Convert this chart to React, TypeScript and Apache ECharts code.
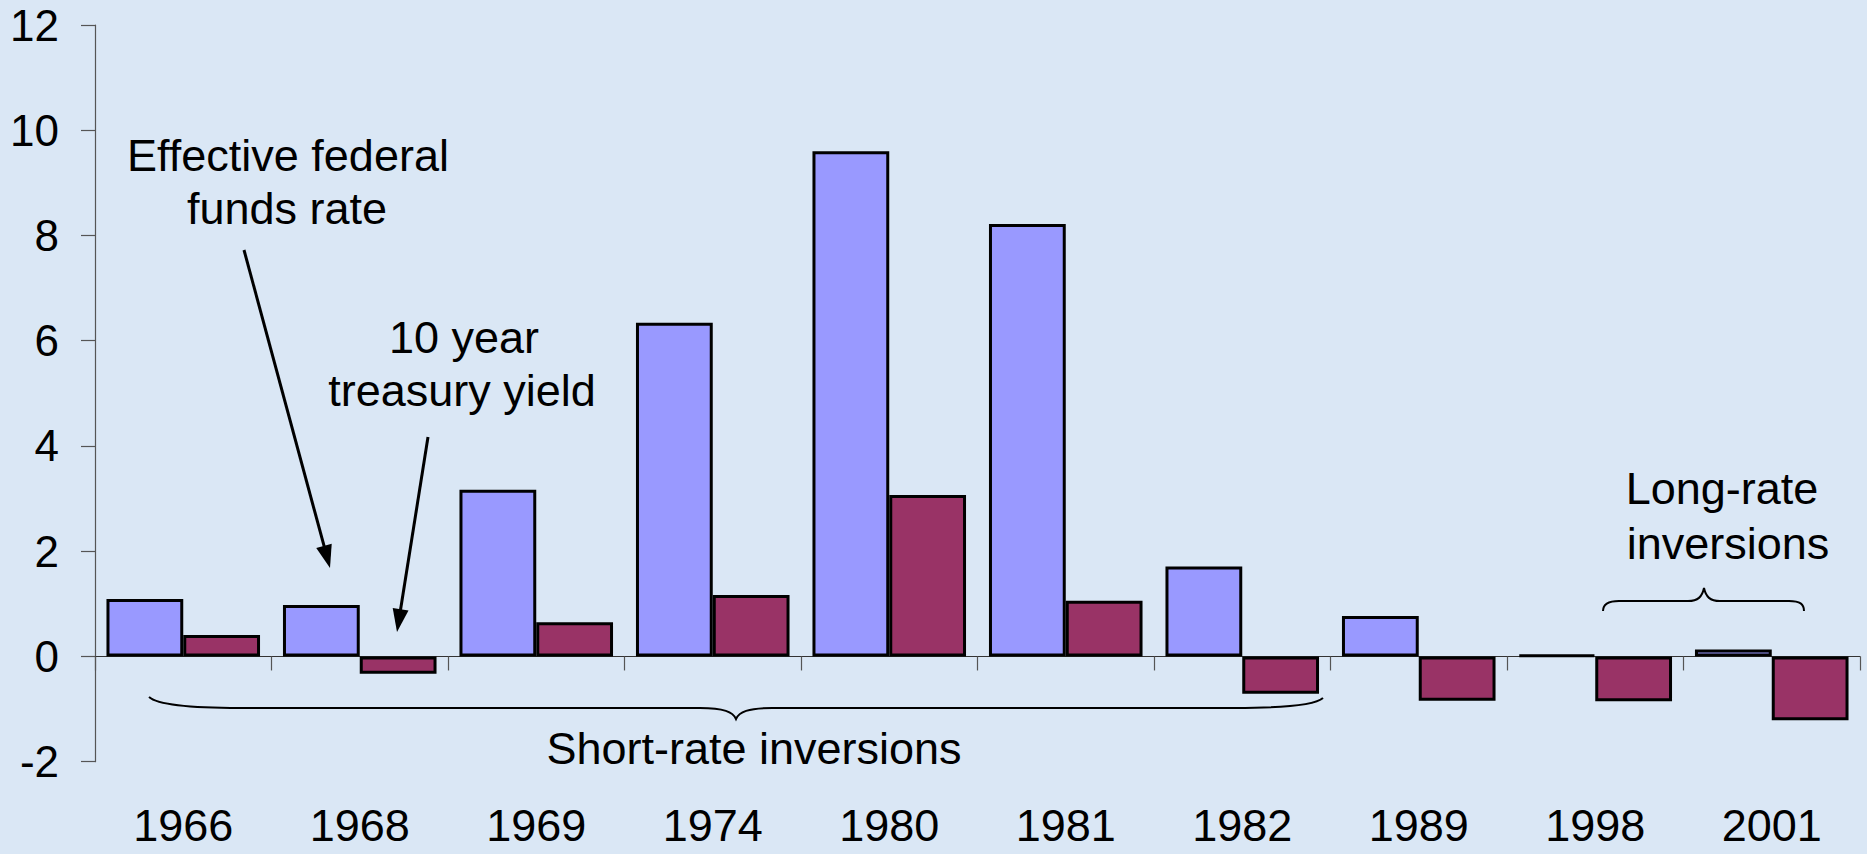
import React, { useEffect, useRef } from "react";
import * as echarts from "echarts";

const years = ["1966", "1968", "1969", "1974", "1980", "1981", "1982", "1989", "1998", "2001"];
const fedFunds = [1.09, 0.98, 3.17, 6.34, 9.6, 8.22, 1.71, 0.77, 0.03, 0.13];
const treasury = [0.41, -0.33, 0.65, 1.17, 3.07, 1.06, -0.71, -0.84, -0.85, -1.21];
const yTicks = { min: -2, max: 12, interval: 2 };

const FONT = "Liberation Sans, Arial, sans-serif";

echarts.graphic.registerShape(
  "braceShort",
  echarts.graphic.extendPath(
    "M149,697 C158,705 195,708 240,708 L700,708 C724,708 733,712 736,719 C739,712 748,708 772,708 L1235,708 C1285,708 1315,705 1323,698",
    {}
  )
);
echarts.graphic.registerShape(
  "braceLong",
  echarts.graphic.extendPath(
    "M1603,611 C1603,604 1608,601 1619,601 L1688,601 C1698,601 1702,597 1704,588 C1706,597 1710,601 1720,601 L1789,601 C1800,601 1804,604 1804,611",
    {}
  )
);

function arrow(x1: number, y1: number, x2: number, y2: number) {
  const dx = x2 - x1;
  const dy = y2 - y1;
  const len = Math.sqrt(dx * dx + dy * dy);
  const ux = dx / len;
  const uy = dy / len;
  const headLen = 23;
  const halfW = 8;
  const bx = x2 - ux * headLen;
  const by = y2 - uy * headLen;
  const px = -uy;
  const py = ux;
  return [
    {
      type: "line",
      shape: { x1, y1, x2: bx + ux * 2, y2: by + uy * 2 },
      style: { stroke: "#000", lineWidth: 3 },
      z: 10,
    },
    {
      type: "polygon",
      shape: {
        points: [
          [x2, y2],
          [bx + px * halfW, by + py * halfW],
          [bx - px * halfW, by - py * halfW],
        ],
      },
      style: { fill: "#000" },
      z: 10,
    },
  ];
}

function label(text: string, x: number, y: number) {
  return {
    type: "text",
    x,
    y,
    z: 10,
    style: {
      text,
      fill: "#000",
      fontSize: 45,
      fontFamily: FONT,
      align: "center",
      verticalAlign: "middle",
    },
  };
}

export default function App() {
  const ref = useRef<HTMLDivElement>(null);
  useEffect(() => {
    if (!ref.current) return;
    const chart = echarts.init(ref.current, null, { renderer: "svg" });
    chart.setOption({
      animation: false,
      backgroundColor: "#dae7f5",
      grid: {
        left: 95,
        right: 7,
        top: 25,
        bottom: 92.3,
        containLabel: false,
        outerBoundsMode: "none",
      },
      xAxis: [
        {
          type: "category",
          data: years,
          position: "bottom",
          axisLine: { show: true, onZero: true, lineStyle: { color: "#333", width: 1.2 } },
          axisTick: { show: true, length: 14, inside: false, lineStyle: { color: "#555", width: 1.2 } },
          axisLabel: { show: false },
          splitLine: { show: false },
        },
        {
          type: "category",
          data: years,
          position: "bottom",
          axisLine: { show: false, onZero: false },
          axisTick: { show: false },
          axisLabel: { show: true, fontSize: 45, fontFamily: FONT, color: "#000", margin: 41 },
          splitLine: { show: false },
        },
      ],
      yAxis: {
        type: "value",
        min: yTicks.min,
        max: yTicks.max,
        interval: yTicks.interval,
        axisLine: { show: true, onZero: false, lineStyle: { color: "#555", width: 1.2 } },
        axisTick: { show: true, length: 14, inside: false, lineStyle: { color: "#555", width: 1.2 } },
        axisLabel: { fontSize: 44, fontFamily: FONT, color: "#000", margin: 36 },
        splitLine: { show: false },
      },
      series: [
        {
          name: "Effective federal funds rate",
          type: "bar",
          xAxisIndex: 0,
          data: fedFunds,
          barGap: "0%",
          barCategoryGap: "13%",
          itemStyle: { color: "#9999FF", borderColor: "#000", borderWidth: 3 },
        },
        {
          name: "10 year treasury yield",
          type: "bar",
          xAxisIndex: 0,
          data: treasury,
          barGap: "0%",
          barCategoryGap: "13%",
          itemStyle: { color: "#993366", borderColor: "#000", borderWidth: 3 },
        },
      ],
      graphic: [
        label("Effective federal", 288, 155),
        label("funds rate", 287, 208),
        label("10 year", 464, 337),
        label("treasury yield", 462, 390),
        label("Short-rate inversions", 754, 748),
        label("Long-rate", 1722, 488),
        label("inversions", 1728, 543),
        ...arrow(244, 250, 330, 568),
        ...arrow(428, 437, 397, 632),
        {
          type: "braceShort",
          x: 0,
          y: 0,
          z: 10,
          style: { fill: "none", stroke: "#000", lineWidth: 2 },
        },
        {
          type: "braceLong",
          x: 0,
          y: 0,
          z: 10,
          style: { fill: "none", stroke: "#000", lineWidth: 2 },
        },
      ],
    });
    return () => chart.dispose();
  }, []);
  return (
    <div
      ref={ref}
      style={{ position: "fixed", left: 0, top: 0, width: "1867px", height: "854px" }}
    />
  );
}
